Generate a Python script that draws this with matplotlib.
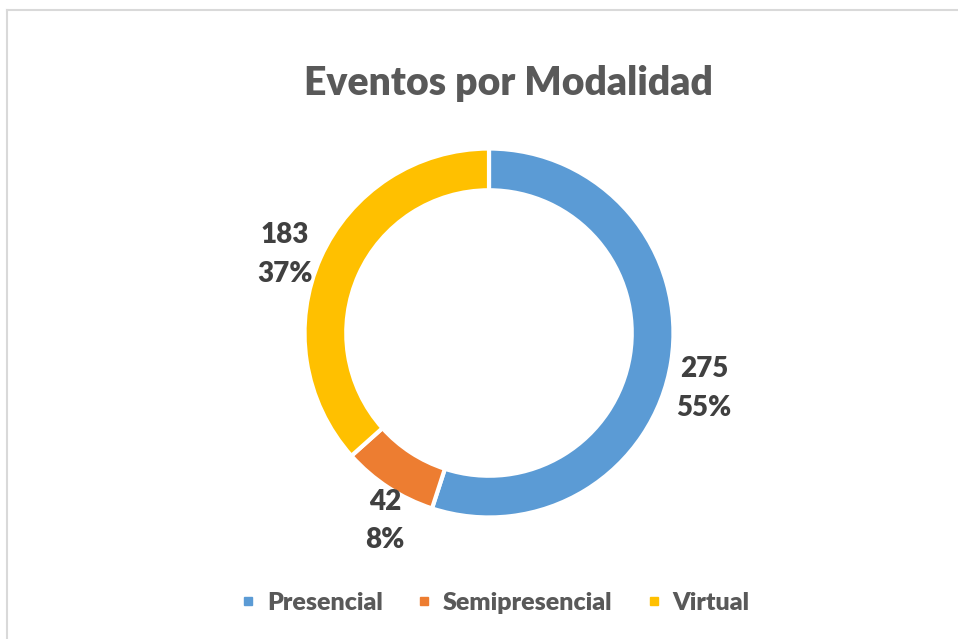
import matplotlib
matplotlib.use("Agg")
import matplotlib.pyplot as plt
import numpy as np
from matplotlib.lines import Line2D

categories = ["Presencial", "Semipresencial", "Virtual"]
values = [275, 42, 183]
colors = ["#5B9BD5", "#ED7D31", "#FFC000"]
title = "Eventos por Modalidad"
# small nudges (points) of the data labels, as Excel places them
label_nudges = [(0, -15.5), (11, -4), (-4, -7.5)]

plt.rcParams['font.family'] = ['Lato', 'DejaVu Sans']

W, H = 958, 639
fig = plt.figure(figsize=(W / 100, H / 100), dpi=100)
fig.patch.set_facecolor("white")

# border
fig.add_artist(Line2D([7 / W, 7 / W], [0, 1 - 10 / H], transform=fig.transFigure, color="#d9d9d9", lw=1.5))
fig.add_artist(Line2D([7 / W, 1], [1 - 10 / H, 1 - 10 / H], transform=fig.transFigure, color="#d9d9d9", lw=1.5))

cx, cy, r = 489, 333, 183
ax = fig.add_axes([(cx - r) / W, (H - cy - r) / H, 2 * r / W, 2 * r / H])
wedges, _ = ax.pie(values, colors=colors, startangle=90, counterclock=False, radius=1.008,
                   wedgeprops=dict(width=0.228, edgecolor="white", linewidth=3))
ax.set_xlim(-1, 1)
ax.set_ylim(-1, 1)
ax.set_aspect("equal")
ax.axis("off")

total = sum(values)
for w, v, (dx, dy) in zip(wedges, values, label_nudges):
    ang = np.deg2rad((w.theta1 + w.theta2) / 2)
    d = 1.19
    ax.annotate(f"{v}\n{round(100 * v / total)}%", (d * np.cos(ang), d * np.sin(ang)),
                xytext=(dx, dy), textcoords="offset points",
                ha="center", va="center", fontsize=20, fontweight=800, color="#404040",
                linespacing=1.6, annotation_clip=False)

fig.text(508.5 / W, 1 - 84 / H, title, ha="center", va="center", fontsize=28.2,
         fontweight=800, color="#595959")

handles = [Line2D([], [], marker="s", linestyle="none", markersize=6, color=c) for c in colors]
leg = fig.legend(handles, categories, loc="center", bbox_to_anchor=(494 / W, 1 - 603 / H),
                 ncol=3, frameon=False, handlelength=0.8, handletextpad=0.35, columnspacing=1.25,
                 prop=dict(size=18, weight=800))
for t in leg.get_texts():
    t.set_color("#595959")

fig.savefig("out.png", dpi=100)
